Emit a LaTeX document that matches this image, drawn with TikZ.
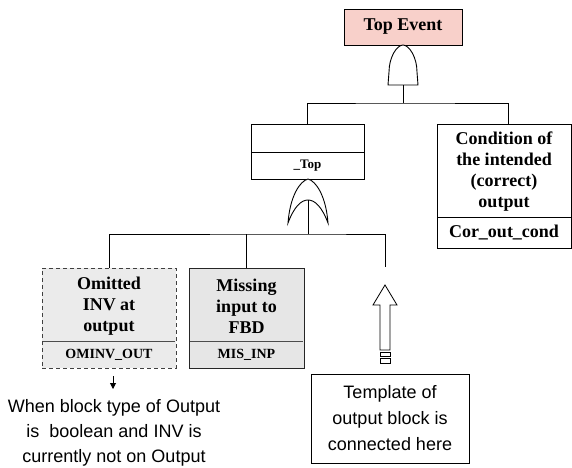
\documentclass[tikz,border=0pt]{standalone}
\usepackage{fontspec}
\setmainfont{Liberation Serif}
\newfontfamily\notefont{Liberation Sans}
\usetikzlibrary{arrows.meta}
\definecolor{topred}{RGB}{248,208,202}
\definecolor{boxgray}{RGB}{230,230,230}
\begin{document}
\begin{tikzpicture}[x=1pt,y=-1pt,
  line width=0.9pt,
  box/.style={draw, rectangle, inner sep=0pt},
  lbl/.style={font=\bfseries\fontsize{18}{21}\selectfont, align=center, inner sep=0pt},
  code/.style={font=\bfseries\fontsize{14}{16}\selectfont, inner sep=0pt},
  note/.style={font=\notefont\fontsize{18}{26}\selectfont, align=center, inner sep=0pt},
  gate/.style={draw, fill=white, line width=0.9pt},
  divider/.style={draw=black!70, line width=0.8pt}
]
\useasboundingbox (0,0) rectangle (572,467);

% Top event with AND gate
\node[box, fill=topred, minimum width=118pt, minimum height=36pt, lbl] (top) at (403,27) {Top Event};
\draw[gate] (388,85) -- (389,72) .. controls (389,57) and (397,45) .. (403,45)
  .. controls (409,45) and (417,57) .. (417,72) -- (418,85) -- cycle;
\coordinate (andout) at (403,85);
\coordinate (bus1) at (403,103);

% _Top box
\node[box, minimum width=113pt, minimum height=55pt] (tp) at (307.5,151.5) {};
\draw (251,152) -- (364,152);
\node[code, font=\bfseries\fontsize{13}{15}\selectfont] (tplbl) at (307.5,165.5) {\_Top};

% Condition box
\node[box, minimum width=134pt, minimum height=124pt] (cond) at (504,186) {};
\draw (437,217) -- (571,217);
\node[lbl] (condtxt) at (504,172) {Condition of\\the intended\\(correct)\\output};
\node[lbl] (condcode) at (504,232.5) {Cor\_out\_cond};

% connectors from AND gate
\draw (andout) -- (bus1);
\draw (tp.north) |- (bus1) -| ([xshift=4pt]cond.north);

% OR gate under _Top
\draw[gate] (288,223) .. controls (290,196) and (300,181) .. (308,179)
  .. controls (316,181) and (326,196) .. (328,223)
  .. controls (322,207) and (315,200) .. (308,200)
  .. controls (301,200) and (294,207) .. (288,223) -- cycle;
\coordinate (orout) at (308,200);
\coordinate (bus2) at (308,234);
\coordinate (tmplin) at (385,267);

% Omitted box
\node[box, draw=black!75, dash pattern=on 4pt off 3pt, fill=boxgray!80, minimum width=134pt, minimum height=100pt] (om) at (109,318) {};
\draw[divider] (43,341) -- (175,341);
\node[lbl] (omtxt) at (109,306) {Omitted\\INV at\\output};
\node[code] (omcode) at (109,354.5) {OMINV\_OUT};

% Missing box
\node[box, draw=black!85, fill=boxgray, minimum width=115pt, minimum height=100pt] (mis) at (246.5,318) {};
\draw[divider] (190,341) -- (303,341);
\node[lbl] (mistxt) at (246.5,306) {Missing\\input to\\FBD};
\node[code] (miscode) at (246.5,354.5) {MIS\_INP};

% connectors from OR gate
\draw (orout) -- (bus2);
\draw (om.north) |- (bus2) -| (tmplin);
\draw (mis.north) -- (mis.north |- bus2);

% small arrow and note
\coordinate (d1) at (113,376);
\coordinate (d2) at (113,389);
\draw[-{Triangle[length=6pt,width=6pt]}] (d1) -- (d2);
\node[note, font=\notefont\fontsize{18}{25}\selectfont] (note) at (114,433) {When block type of Output\\is\ \ boolean and INV is\\currently not on Output};

% hollow striped up arrow
\draw[line width=0.8pt] (385,285) -- (397,305) -- (390,305) -- (390,350) -- (380,350) -- (380,305) -- (373,305) -- cycle;
\draw[line width=0.8pt] (380,352) rectangle (390,356);
\draw[line width=0.8pt] (380,358) rectangle (390,363);

% Template box
\node[box, note, minimum width=158pt, minimum height=89pt] (tmpl) at (390,418.5) {Template of\\output block is\\connected here};
\end{tikzpicture}
\end{document}
